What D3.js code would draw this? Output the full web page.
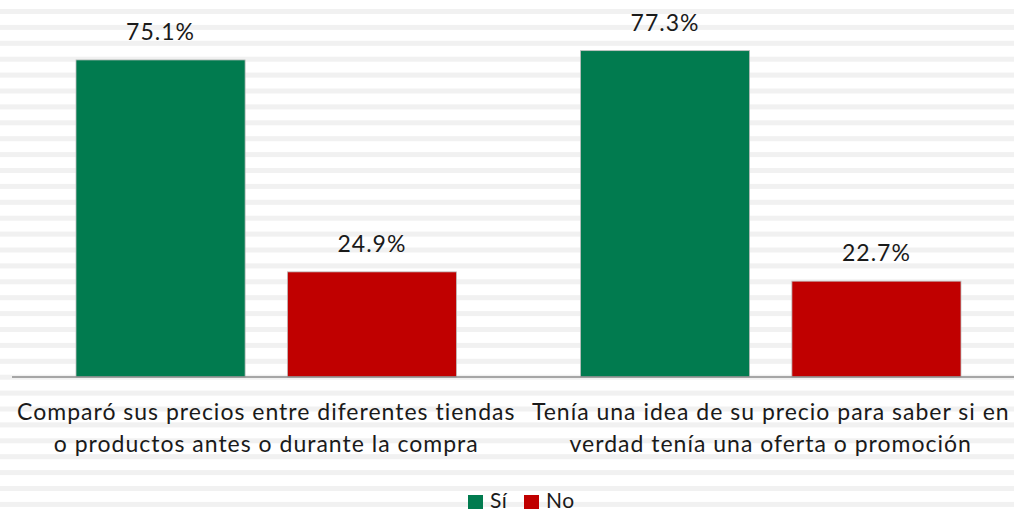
<!DOCTYPE html>
<html>
<head>
<meta charset="utf-8">
<script src="https://cdn.jsdelivr.net/npm/d3@7"></script>
<style>
  html, body { margin: 0; padding: 0; background: #fff; }
  text { font-family: Lato, "Open Sans", sans-serif; fill: #1a1a1a; }
</style>
</head>
<body>
<script>
// data
const categories = [
  ["Comparó sus precios entre diferentes tiendas", "o productos antes o durante la compra"],
  ["Tenía una idea de su precio para saber si en", "verdad tenía una oferta o promoción"]
];
const seriesNames = ["Sí", "No"];
const siValues = [75.1, 77.3];
const noValues = [24.9, 22.7];
const seriesColors = ["#017b4f", "#c00000"];

const W = 1014, H = 512;
const baseY = 377;

const svg = d3.select("body").append("svg")
  .attr("width", W)
  .attr("height", H);

// striped background
const stripeRows = d3.range(0, 32);
svg.append("g").selectAll("rect")
  .data(stripeRows)
  .enter().append("rect")
  .attr("x", 0)
  .attr("y", d => 9 + d * 15.9)
  .attr("width", W)
  .attr("height", 5)
  .attr("fill", "#f1f1f1");

const x0 = d3.scaleBand()
  .domain(d3.range(categories.length))
  .range([14, 1023]);

const x1 = d3.scaleBand()
  .domain(seriesNames)
  .range([62, x0.bandwidth() - 62])
  .paddingInner(0.2);

const y = d3.scaleLinear()
  .domain([0, 80])
  .range([baseY, baseY - 80 * 4.222]);

const rows = categories.map((c, i) => ({ i: i, vals: [siValues[i], noValues[i]] }));

const groups = svg.append("g").selectAll("g")
  .data(rows)
  .enter().append("g")
  .attr("transform", d => "translate(" + x0(d.i) + ",0)");

groups.selectAll("rect")
  .data(d => d.vals.map((v, k) => ({ k: k, v: v })))
  .enter().append("rect")
  .attr("x", d => x1(seriesNames[d.k]))
  .attr("y", d => y(d.v))
  .attr("width", x1.bandwidth())
  .attr("height", d => baseY - y(d.v))
  .attr("fill", d => seriesColors[d.k])
  .attr("stroke", "#bfbfbf")
  .attr("stroke-width", 0.8);

groups.selectAll("text.val")
  .data(d => d.vals.map((v, k) => ({ k: k, v: v })))
  .enter().append("text")
  .attr("class", "val")
  .attr("x", d => x1(seriesNames[d.k]) + x1.bandwidth() / 2)
  .attr("y", d => y(d.v) - 20)
  .attr("text-anchor", "middle")
  .style("font-size", "23px")
  .style("letter-spacing", "1px")
  .text(d => d.v.toFixed(1) + "%");

// axis line
svg.append("line")
  .attr("x1", 12).attr("x2", W)
  .attr("y1", baseY).attr("y2", baseY)
  .attr("stroke", "#8c8c8c")
  .attr("stroke-width", 1.5);

// category labels
const labels = svg.append("g").selectAll("text")
  .data(categories)
  .enter().append("text")
  .attr("text-anchor", "middle")
  .attr("x", (d, i) => x0(i) + x0.bandwidth() / 2)
  .attr("y", 420)
  .style("font-size", "23px")
  .style("letter-spacing", "1px");
labels.selectAll("tspan")
  .data(d => d)
  .enter().append("tspan")
  .attr("x", function() { return d3.select(this.parentNode).attr("x"); })
  .attr("dy", (d, j) => j === 0 ? 0 : 32)
  .text(d => d);

// legend
const legend = svg.append("g");
const legendX = [468, 524];
seriesNames.forEach((s, k) => {
  legend.append("rect")
    .attr("x", legendX[k])
    .attr("y", 495)
    .attr("width", 15)
    .attr("height", 14)
    .attr("fill", seriesColors[k]);
  legend.append("text")
    .attr("x", legendX[k] + 22)
    .attr("y", 508)
    .style("font-size", "21px")
    .style("letter-spacing", "0.5px")
    .text(s);
});
</script>
</body>
</html>
